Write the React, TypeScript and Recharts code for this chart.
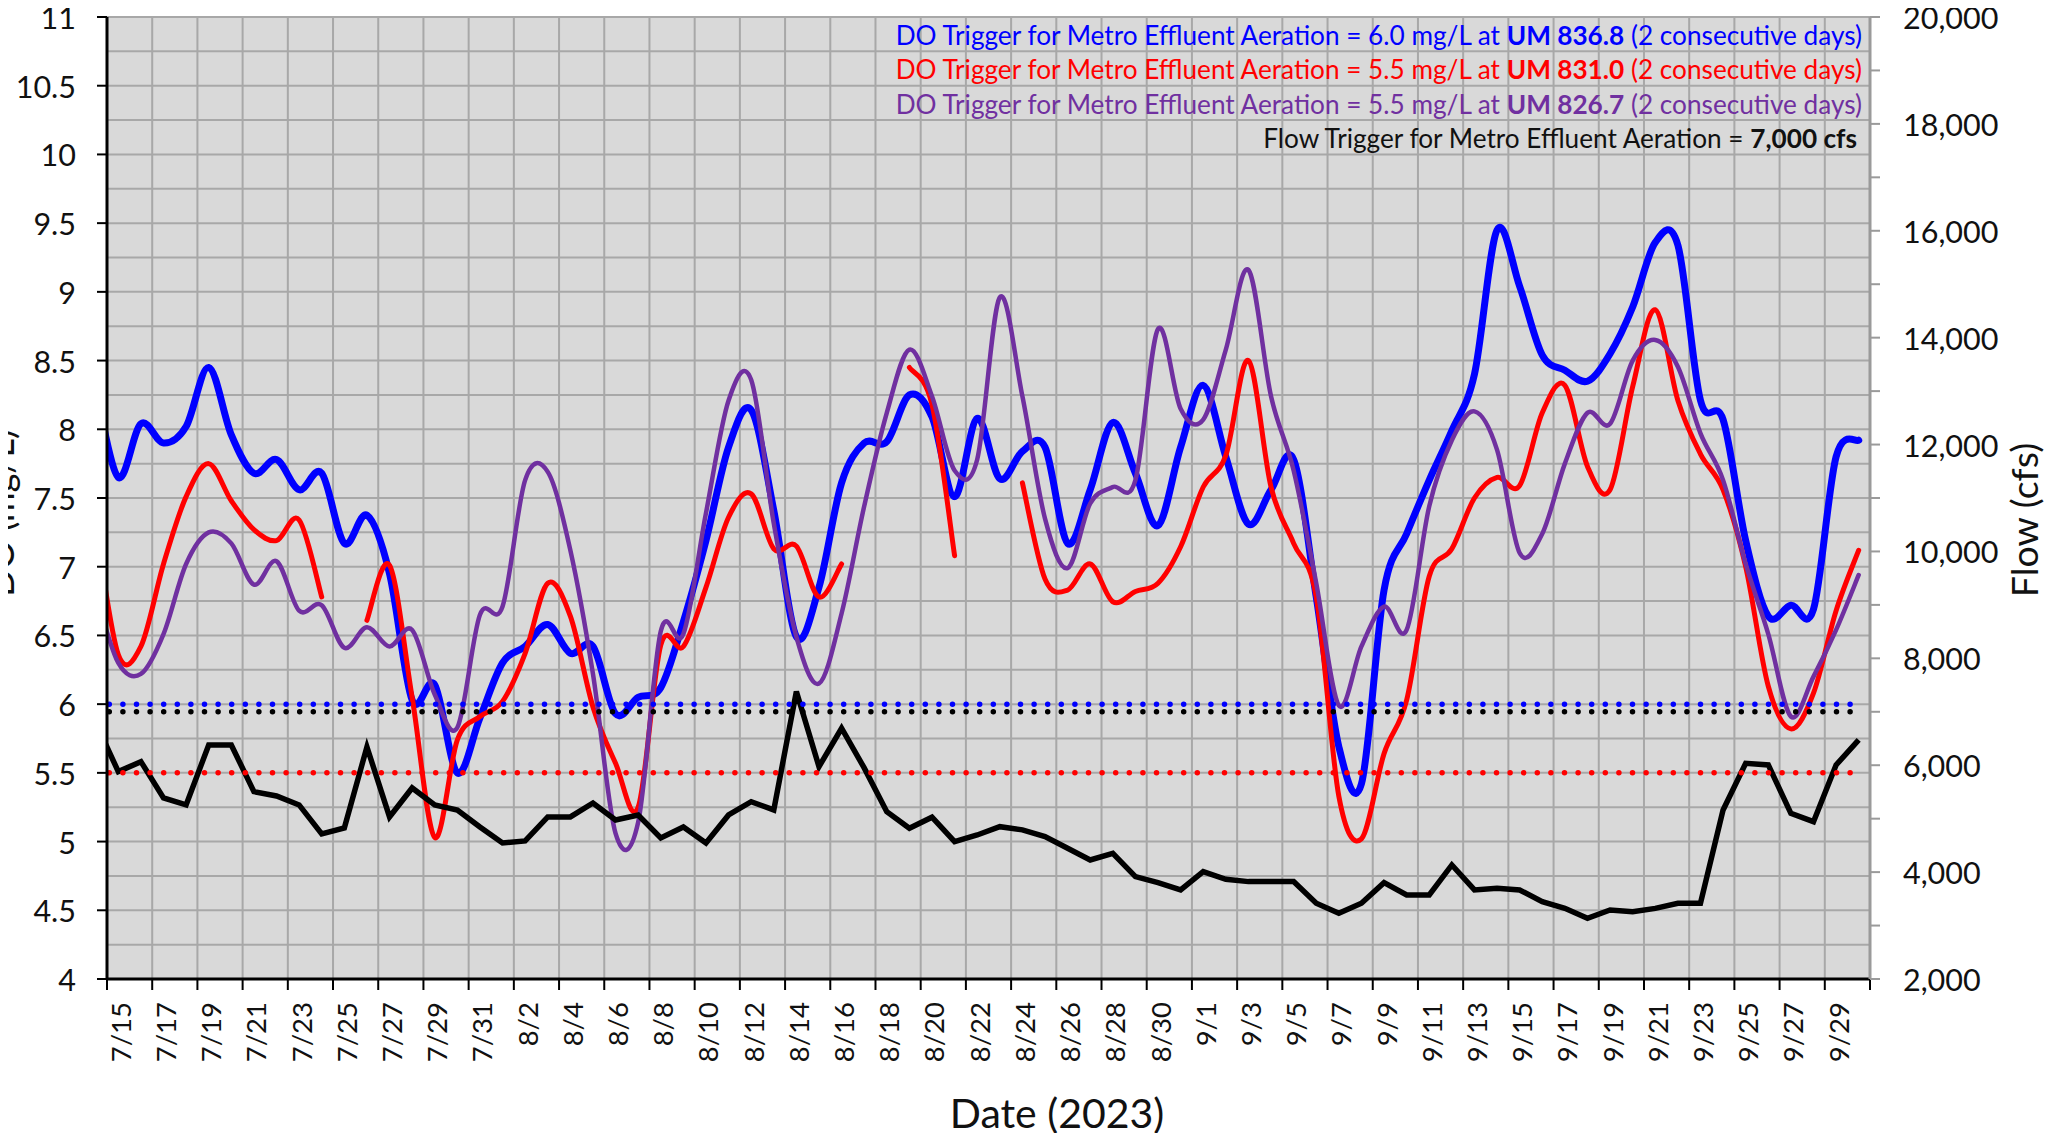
import React from 'react';
import { LineChart, Line, XAxis, YAxis, CartesianGrid } from 'recharts';

const W = 2059;
const H = 1141;
const PLOT_L = 107;
const PLOT_R = 1870;
const PLOT_T = 17;
const PLOT_B = 979;
const FONT = "Lato, 'Open Sans', 'DejaVu Sans', sans-serif";

// Categories: 7/14 (clipped, left of axis) through 9/30
const monthSpans: [number, number, number][] = [
  [7, 14, 31],
  [8, 1, 31],
  [9, 1, 30],
];
const dates: string[] = [];
monthSpans.forEach(([m, a, b]) => {
  for (let d = a; d <= b; d++) dates.push(`${m}/${d}`);
});

// DO at UM 836.8 (mg/L)
const blueDO = [
  8.3,
  7.65, 8.04, 7.9, 8.02, 8.45, 7.96, 7.68, 7.78, 7.56, 7.68,
  7.17, 7.375, 6.95, 6.03, 6.14, 5.5, 5.9, 6.3, 6.42, 6.58,
  6.37, 6.42, 5.93, 6.05, 6.12, 6.6, 7.19, 7.87, 8.14, 7.41,
  6.49, 6.85, 7.61, 7.9, 7.91, 8.25, 8.09, 7.51, 8.08, 7.64,
  7.84, 7.87, 7.17, 7.56, 8.05, 7.68, 7.3, 7.87, 8.32, 7.8,
  7.31, 7.56, 7.78, 6.78, 5.69, 5.42, 6.83, 7.24, 7.63, 7.99,
  8.4, 9.45, 9.04, 8.54, 8.43, 8.35, 8.55, 8.89, 9.36, 9.34,
  8.21, 8.07, 7.19, 6.64, 6.72, 6.69, 7.8, 7.92,
];

// DO at UM 831.0 (mg/L), gaps = missing data
const redDO: (number | null)[] = [
  7.3,
  6.36, 6.42, 7.02, 7.51, 7.75, 7.48, 7.27, 7.19, 7.34, 6.78,
  null, 6.61, 7.01, 6.05, 5.03, 5.74, 5.91, 6.02, 6.37, 6.88,
  6.64, 5.98, 5.57, 5.25, 6.43, 6.42, 6.85, 7.36, 7.53, 7.13,
  7.15, 6.78, 7.02, null, null, 8.45, 8.18, 7.08, null, null,
  7.61, 6.91, 6.83, 7.02, 6.745, 6.82, 6.88, 7.145, 7.58, 7.81,
  8.5, 7.58, 7.17, 6.78, 5.33, 5.02, 5.64, 6.03, 6.93, 7.13,
  7.5, 7.65, 7.59, 8.12, 8.32, 7.73, 7.56, 8.31, 8.87, 8.21,
  7.82, 7.56, 7.0, 6.13, 5.82, 6.08, 6.68, 7.12,
];

// DO at UM 826.7 (mg/L)
const purpleDO = [
  6.8,
  6.3, 6.22, 6.51, 7.02, 7.25, 7.17, 6.87, 7.04, 6.68, 6.72,
  6.41, 6.56, 6.42, 6.54, 6.07, 5.83, 6.65, 6.71, 7.63, 7.69,
  7.12, 6.22, 5.06, 5.14, 6.53, 6.51, 7.39, 8.21, 8.36, 7.315,
  6.49, 6.15, 6.66, 7.44, 8.12, 8.58, 8.24, 7.7, 7.78, 8.96,
  8.24, 7.35, 6.99, 7.46, 7.58, 7.63, 8.73, 8.15, 8.07, 8.58,
  9.16, 8.24, 7.7, 6.88, 5.99, 6.42, 6.71, 6.54, 7.44, 7.92,
  8.13, 7.85, 7.1, 7.24, 7.75, 8.12, 8.04, 8.5, 8.65, 8.455,
  7.97, 7.63, 7.02, 6.51, 5.91, 6.2, 6.54, 6.94,
];

// River flow (cfs)
const flowCfs = [
  6800,
  5880, 6067, 5387, 5257, 6379, 6379, 5505, 5425, 5257, 4714,
  4826, 6342, 5032, 5575, 5257, 5163, 4845, 4546, 4583, 5032,
  5032, 5294, 4976, 5069, 4639, 4845, 4546, 5069, 5318, 5163,
  7380, 5973, 6692, 5950, 5131, 4821, 5027, 4570, 4695, 4850,
  4790, 4664, 4447, 4227, 4352, 3915, 3803, 3666, 4009, 3866,
  3822, 3822, 3822, 3417, 3230, 3417, 3803, 3573, 3573, 4134,
  3666, 3698, 3666, 3447, 3322, 3135, 3292, 3260, 3322, 3417,
  3417, 5163, 6036, 6005, 5100, 4944, 6005, 6473,
];

// Triggers
const doTriggerUM8368 = 6.0;
const doTriggerUM8310 = 5.5;
const flowTrigger = 7000;

// Axis ticks
const doGridTicks = [
  4, 4.25, 4.5, 4.75, 5, 5.25, 5.5, 5.75, 6, 6.25, 6.5, 6.75, 7, 7.25, 7.5,
  7.75, 8, 8.25, 8.5, 8.75, 9, 9.25, 9.5, 9.75, 10, 10.25, 10.5, 10.75, 11,
];
const flowTicks = [
  2000, 3000, 4000, 5000, 6000, 7000, 8000, 9000, 10000, 11000, 12000,
  13000, 14000, 15000, 16000, 17000, 18000, 19000, 20000,
];
const dayTicks = [
  0, 2, 4, 6, 8, 10, 12, 14, 16, 18, 20, 22, 24, 26, 28, 30, 32, 34, 36, 38,
  40, 42, 44, 46, 48, 50, 52, 54, 56, 58, 60, 62, 64, 66, 68, 70, 72, 74, 76, 78,
];

const data = dates.map((date, i) => ({
  date,
  day: i - 0.5,
  blue: blueDO[i],
  red: redDO[i],
  purple: purpleDO[i],
  flow: flowCfs[i],
  trigBlue: doTriggerUM8368,
  trigRed: doTriggerUM8310,
  trigFlow: flowTrigger,
}));

// Excel-like smoothed line (cardinal spline, tension 0)
const excelSmooth: any = (context: any) => {
  let pts: number[][] = [];
  return {
    areaStart() {},
    areaEnd() {},
    lineStart() {
      pts = [];
    },
    point(x: number, y: number) {
      pts.push([+x, +y]);
    },
    lineEnd() {
      const n = pts.length;
      if (!n) return;
      context.moveTo(pts[0][0], pts[0][1]);
      if (n === 1) return;
      for (let i = 0; i < n - 1; i++) {
        const p0 = pts[i > 0 ? i - 1 : i];
        const p1 = pts[i];
        const p2 = pts[i + 1];
        const p3 = pts[i + 2 < n ? i + 2 : i + 1];
        context.bezierCurveTo(
          p1[0] + (p2[0] - p0[0]) / 6,
          p1[1] + (p2[1] - p0[1]) / 6,
          p2[0] - (p3[0] - p1[0]) / 6,
          p2[1] - (p3[1] - p1[1]) / 6,
          p2[0],
          p2[1]
        );
      }
    },
  };
};

const HALF_DAY = (PLOT_R - PLOT_L) / 78 / 2;

function XTick(props: any) {
  const { x, payload } = props;
  const v = payload.value;
  const label = dates[v + 1];
  if (v >= 78 || !label) return null;
  const cx = x + HALF_DAY + 2;
  const ty = PLOT_B + 23;
  return (
    <text
      x={cx}
      y={ty}
      transform={`rotate(-90 ${cx} ${ty})`}
      textAnchor="end"
      dominantBaseline="central"
      fontSize={27.5}
      fontFamily={FONT}
      fill="#111"
    >
      {label}
    </text>
  );
}

function LeftTick(props: any) {
  const { y, payload } = props;
  const v = payload.value;
  if (Math.abs(v * 2 - Math.round(v * 2)) > 1e-6) return null;
  return (
    <g>
      <line x1={PLOT_L - 10} x2={PLOT_L} y1={y} y2={y} stroke="#000" strokeWidth={2} />
      <text
        x={76}
        y={y}
        textAnchor="end"
        dominantBaseline="central"
        fontSize={30.5}
        fontFamily={FONT}
        fill="#111"
      >
        {String(v)}
      </text>
    </g>
  );
}

function RightTick(props: any) {
  const { y, payload } = props;
  const v = payload.value;
  if (v % 2000 !== 0) return null;
  return (
    <text
      x={1903}
      y={y}
      textAnchor="start"
      dominantBaseline="central"
      fontSize={30.5}
      fontFamily={FONT}
      fill="#111"
    >
      {v.toLocaleString('en-US')}
    </text>
  );
}

const legendLines = [
  { pre: 'DO Trigger for Metro Effluent Aeration = 6.0 mg/L at ', bold: 'UM 836.8', post: ' (2 consecutive days)', color: '#0000ff', x: 1862, y: 45 },
  { pre: 'DO Trigger for Metro Effluent Aeration = 5.5 mg/L at ', bold: 'UM 831.0', post: ' (2 consecutive days)', color: '#ff0000', x: 1862, y: 79 },
  { pre: 'DO Trigger for Metro Effluent Aeration = 5.5 mg/L at ', bold: 'UM 826.7', post: ' (2 consecutive days)', color: '#7030a0', x: 1862, y: 114 },
  { pre: 'Flow Trigger for Metro Effluent Aeration = ', bold: '7,000 cfs', post: '', color: '#111111', x: 1857, y: 148 },
];

export default function App() {
  return (
    <div
      style={{
        position: 'relative',
        width: W,
        height: H,
        margin: -8,
        overflow: 'hidden',
        background: '#ffffff',
        fontFamily: FONT,
      }}
    >
      <LineChart
        width={W}
        height={H}
        data={data}
        margin={{ top: PLOT_T, right: 69, bottom: 42, left: 27 }}
      >
        <CartesianGrid
          xAxisId="x"
          yAxisId="do"
          fill="#d9d9d9"
          stroke="#a8a8a8"
          strokeWidth={2}
        />
        <XAxis
          xAxisId="x"
          dataKey="day"
          type="number"
          domain={[0, 78]}
          allowDataOverflow
          ticks={dayTicks}
          interval={0}
          height={120}
          tickSize={11}
          axisLine={{ stroke: '#000', strokeWidth: 3 }}
          tickLine={{ stroke: '#000', strokeWidth: 2 }}
          tick={<XTick />}
        />
        <YAxis
          yAxisId="do"
          orientation="left"
          type="number"
          domain={[4, 11]}
          allowDataOverflow
          ticks={doGridTicks}
          interval={0}
          width={80}
          tickLine={false}
          axisLine={{ stroke: '#000', strokeWidth: 3 }}
          tick={<LeftTick />}
        />
        <YAxis
          yAxisId="flow"
          orientation="right"
          type="number"
          domain={[2000, 20000]}
          allowDataOverflow
          ticks={flowTicks}
          interval={0}
          width={120}
          tickSize={10}
          tickLine={{ stroke: '#9a9a9a', strokeWidth: 2 }}
          axisLine={{ stroke: '#9a9a9a', strokeWidth: 3 }}
          tick={<RightTick />}
        />
        <Line
          xAxisId="x"
          yAxisId="do"
          dataKey="blue"
          type={excelSmooth}
          stroke="#0000ff"
          strokeWidth={7}
          strokeLinecap="round"
          strokeLinejoin="round"
          dot={false}
          activeDot={false}
          isAnimationActive={false}
        />
        <Line
          xAxisId="x"
          yAxisId="do"
          dataKey="red"
          type={excelSmooth}
          stroke="#ff0000"
          strokeWidth={5}
          strokeLinecap="round"
          strokeLinejoin="round"
          dot={false}
          activeDot={false}
          connectNulls={false}
          isAnimationActive={false}
        />
        <Line
          xAxisId="x"
          yAxisId="do"
          dataKey="purple"
          type={excelSmooth}
          stroke="#7030a0"
          strokeWidth={4.5}
          strokeLinecap="round"
          strokeLinejoin="round"
          dot={false}
          activeDot={false}
          isAnimationActive={false}
        />
        <Line
          xAxisId="x"
          yAxisId="flow"
          dataKey="flow"
          type="linear"
          stroke="#000000"
          strokeWidth={5.5}
          dot={false}
          activeDot={false}
          isAnimationActive={false}
        />
        <Line
          xAxisId="x"
          yAxisId="do"
          dataKey="trigBlue"
          type="linear"
          stroke="#0000ff"
          strokeWidth={5.5}
          strokeDasharray="0 13.6"
          strokeLinecap="round"
          dot={false}
          activeDot={false}
          isAnimationActive={false}
        />
        <Line
          xAxisId="x"
          yAxisId="flow"
          dataKey="trigFlow"
          type="linear"
          stroke="#000000"
          strokeWidth={5.5}
          strokeDasharray="0 13.6"
          strokeLinecap="round"
          dot={false}
          activeDot={false}
          isAnimationActive={false}
        />
        <Line
          xAxisId="x"
          yAxisId="do"
          dataKey="trigRed"
          type="linear"
          stroke="#ff0000"
          strokeWidth={5.5}
          strokeDasharray="0 13.6"
          strokeLinecap="round"
          dot={false}
          activeDot={false}
          isAnimationActive={false}
        />
      </LineChart>
      <svg
        width={W}
        height={H}
        style={{ position: 'absolute', left: 0, top: 0, pointerEvents: 'none' }}
      >
        <rect x={432} y={-60} width={1129} height={65} fill="#ffffff" stroke="#595959" strokeWidth={2} />
        {legendLines.map((l, i) => (
          <text
            key={i}
            x={l.x}
            y={l.y}
            textAnchor="end"
            fontSize={26.2}
            fontFamily={FONT}
            fill={l.color}
          >
            {l.pre}
            <tspan fontWeight="bold">{l.bold}</tspan>
            {l.post}
          </text>
        ))}
        <text
          x={-513}
          y={14}
          transform="rotate(-90)"
          textAnchor="middle"
          fontSize={36}
          fontFamily={FONT}
          fill="#111"
        >
          DO (mg/L)
        </text>
        <text
          x={-520}
          y={2038}
          transform="rotate(-90)"
          textAnchor="middle"
          fontSize={37.5}
          fontFamily={FONT}
          fill="#111"
        >
          Flow (cfs)
        </text>
        <text
          x={1057}
          y={1128}
          textAnchor="middle"
          fontSize={41}
          fontFamily={FONT}
          fill="#111"
        >
          Date (2023)
        </text>
      </svg>
    </div>
  );
}
